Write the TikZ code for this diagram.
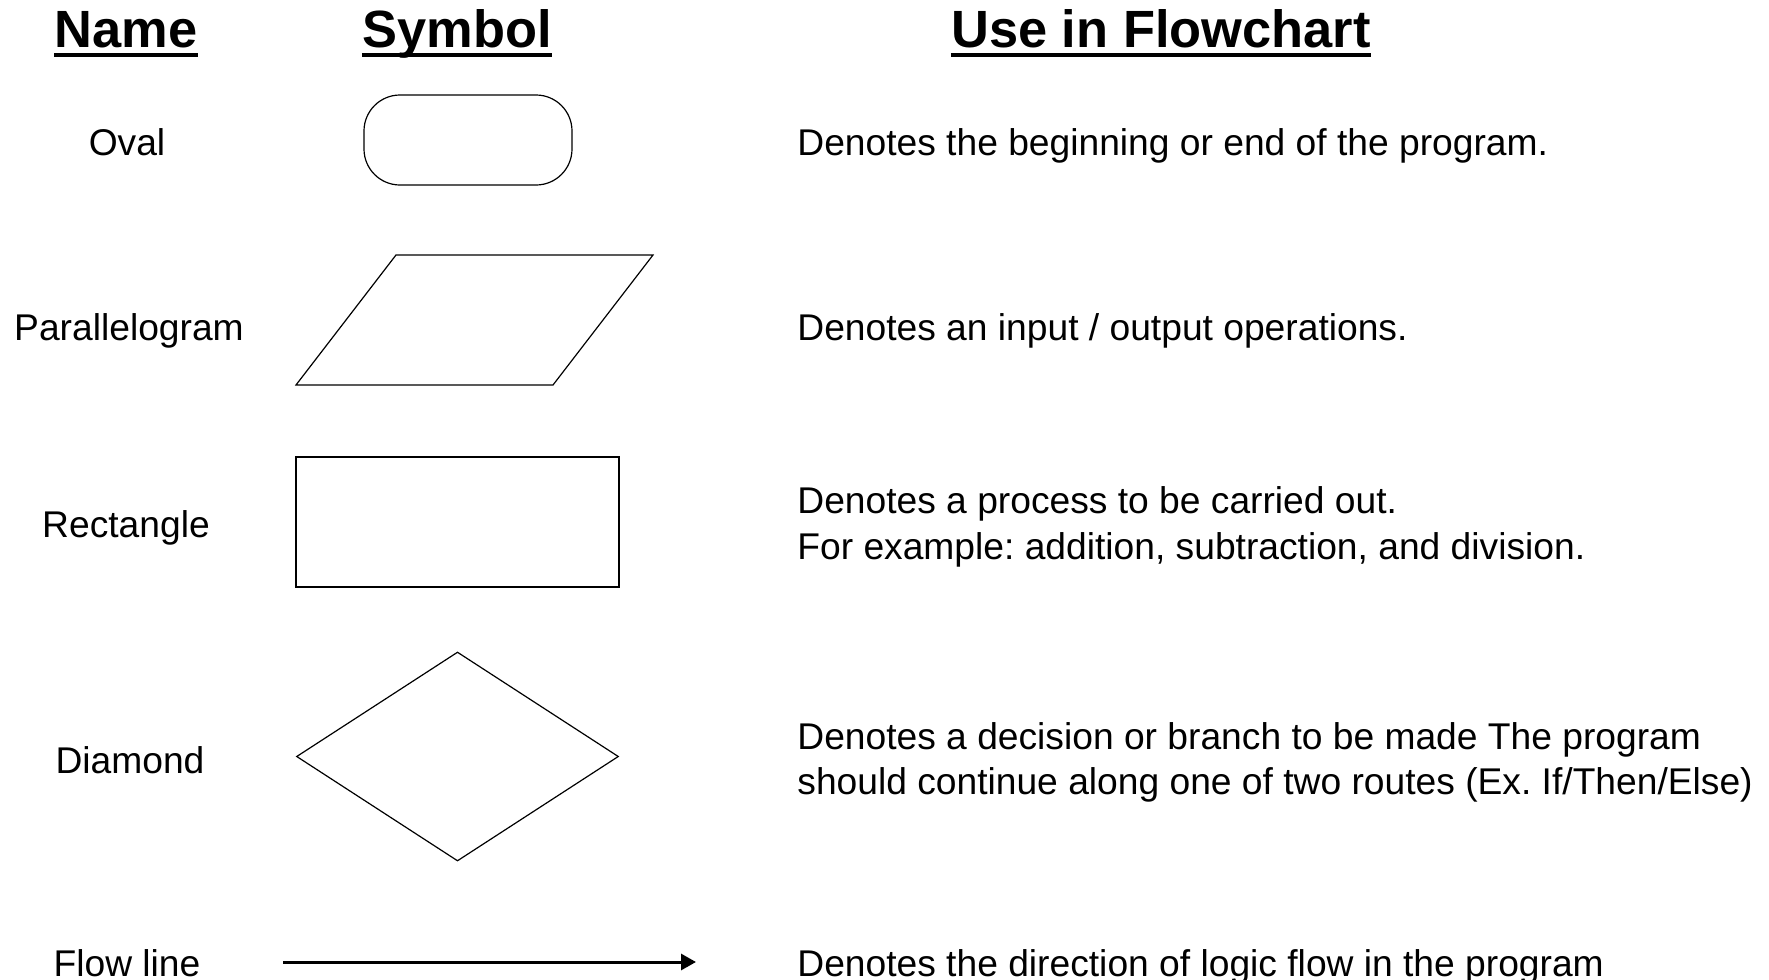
\documentclass[tikz,border=0pt]{standalone}
\usepackage{fontspec}
\setmainfont{Liberation Sans}
\usetikzlibrary{shapes.geometric,arrows.meta}
\frenchspacing

\begin{document}
\begin{tikzpicture}[x=0.5pt,y=-0.5pt,
  head/.style={font=\fontsize{26.2}{31}\selectfont\bfseries, inner sep=0pt, anchor=base},
  uline/.style={line width=1.7pt},
  label/.style={font=\fontsize{18.6}{23}\selectfont, inner sep=0pt, anchor=base},
  desc/.style={font=\fontsize{18.6}{23}\selectfont, inner sep=0pt, anchor=base west},
  symb/.style={draw, line width=0.6pt, inner sep=0pt},
  flow/.style={line width=1.5pt, -{Triangle[length=7.5pt,width=8pt]}}]

% page frame
\clip (0,0) rectangle (1769,980);
\fill[white] (0,0) rectangle (1769,980);

% column headings
\node[head] (hname) at (126,47) {Name};
\node[head] (hsym)  at (457,47) {Symbol};
\node[head] (huse)  at (1161,47) {Use in Flowchart};
\foreach \h in {hname,hsym,huse}
  \draw[uline] ([yshift=-4pt]\h.base west) -- ([yshift=-4pt]\h.base east);

% names
\node[label] (noval)  at (127,155) {Oval};
\node[label] (npar)   at (129,340) {Parallelogram};
\node[label] (nrect)  at (126,537) {Rectangle};
\node[label] (ndiam)  at (130,773) {Diamond};
\node[label] (nflow)  at (127,976) {Flow line};

% symbols
\node[symb, rounded corners=18pt, minimum width=104pt, minimum height=45pt] (soval) at (468,140) {};

\coordinate (pbl) at (296,385);
\coordinate (ptl) at (396,255);
\coordinate (ptr) at (653,255);
\coordinate (pbr) at (553,385);
\draw[line width=0.6pt] (pbl) -- (ptl) -- (ptr) -- (pbr) -- cycle;

\node[symb, rectangle, minimum width=161.5pt, minimum height=65pt] (srect) at (457.5,522) {};

\node[symb, diamond, minimum width=161pt, minimum height=104.5pt] (sdiam) at (457.5,756.5) {};

\coordinate (fa) at (283,962);
\coordinate (fb) at (696,962);
\draw[flow] (fa) -- (fb);

% descriptions
\node[desc] (d1)  at (797,155) {Denotes the beginning or end of the program.};
\node[desc] (d2)  at (797,340) {Denotes an input / output operations.};
\node[desc] (d3a) at (797,513) {Denotes a process to be carried out.};
\node[desc] (d3b) at (797,559) {For example: addition, subtraction, and division.};
\node[desc] (d4a) at (797,749) {Denotes a decision or branch to be made The program};
\node[desc] (d4b) at (797,794) {should continue along one of two routes (Ex. If/Then/Else)};
\node[desc] (d5)  at (797,976) {Denotes the direction of logic flow in the program};
\end{tikzpicture}
\end{document}
